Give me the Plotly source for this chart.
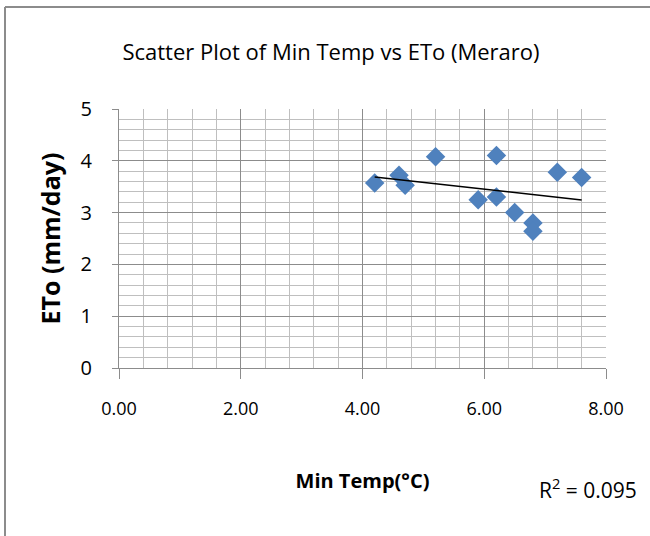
import numpy as np
import plotly.graph_objects as go

# Data
min_temp = [4.2, 4.6, 4.7, 5.2, 5.9, 6.2, 6.2, 6.5, 6.8, 6.8, 7.2, 7.6]
eto = [3.57, 3.72, 3.53, 4.08, 3.25, 4.10, 3.30, 3.00, 2.80, 2.64, 3.78, 3.68]
x_ticks = [0, 2, 4, 6, 8]
y_ticks = [0, 1, 2, 3, 4, 5]
r2_label = "0.095"

title_text = "Scatter Plot of Min Temp vs ETo (Meraro)"
x_title = "Min Temp(°C)"
y_title = "ETo (mm/day)"

# Linear trendline fitted from the data
slope, intercept = np.polyfit(min_temp, eto, 1)
trend_x = [min(min_temp), max(min_temp)]
trend_y = [slope * v + intercept for v in trend_x]

FONT = "Open Sans, Arial, sans-serif"
W, H = 650, 536
L, R, T, B = 119, 44, 109, 168
pw, ph = W - L - R, H - T - B


def px_to_paper_x(px):
    return (px - L) / pw


def px_to_paper_y(py):
    return (H - B - py) / ph


fig = go.Figure()
fig.add_trace(go.Scatter(
    x=min_temp, y=eto, mode="markers",
    marker=dict(symbol="diamond", size=15, color="#4F81BD",
                line=dict(width=0)),
    showlegend=False, hoverinfo="x+y"))
fig.add_trace(go.Scatter(
    x=trend_x, y=trend_y, mode="lines",
    line=dict(color="#000000", width=1.5),
    showlegend=False, hoverinfo="skip"))

fig.update_layout(
    width=W, height=H,
    margin=dict(l=L, r=R, t=T, b=B, autoexpand=False),
    paper_bgcolor="white", plot_bgcolor="white",
    font=dict(family=FONT, size=20, color="#000000"),
    title=dict(text=title_text, x=331 / W, xanchor="center",
               y=1 - 52 / H, yanchor="middle",
               font=dict(family=FONT, size=22, color="#000000")),
)

fig.update_xaxes(
    range=[0, 8], tickvals=x_ticks, tickformat=".2f",
    showgrid=True, gridcolor="#8C8C8C", gridwidth=1,
    minor=dict(dtick=0.4, showgrid=True, gridcolor="#BFBFBF", gridwidth=1,
               ticks=""),
    showline=True, linecolor="#8C8C8C", linewidth=1,
    ticks="outside", ticklen=10, tickcolor="#8C8C8C",
    ticklabelstandoff=14, zeroline=False, automargin=False,
    tickfont=dict(family=FONT, size=18, color="#000000"),
    title=dict(text=f"<b>{x_title}</b>", standoff=55,
               font=dict(family=FONT, size=20, color="#000000")),
)
fig.update_yaxes(
    range=[0, 5], tickvals=y_ticks,
    showgrid=True, gridcolor="#8C8C8C", gridwidth=1,
    minor=dict(dtick=0.2, showgrid=True, gridcolor="#BFBFBF", gridwidth=1,
               ticks=""),
    showline=True, linecolor="#8C8C8C", linewidth=1,
    ticks="outside", ticklen=6, tickcolor="#8C8C8C",
    ticklabelstandoff=16, zeroline=False, automargin=False,
    tickfont=dict(family=FONT, size=20, color="#000000"),
    title=dict(text=f"<b>{y_title}</b>", standoff=12,
               font=dict(family=FONT, size=25, color="#000000")),
)

# R² label of the trendline
fig.add_annotation(text=f"R<sup>2</sup> = {r2_label}", xref="paper", yref="paper",
                   x=px_to_paper_x(588), y=px_to_paper_y(488),
                   xanchor="center", yanchor="middle", showarrow=False,
                   font=dict(family=FONT, size=21, color="#000000"))

# Chart-area border (left and top edges visible in the reference)
fig.add_shape(type="line", xref="paper", yref="paper",
              x0=px_to_paper_x(5), x1=px_to_paper_x(5),
              y0=px_to_paper_y(7), y1=px_to_paper_y(H + 5),
              line=dict(color="#8C8C8C", width=2))
fig.add_shape(type="line", xref="paper", yref="paper",
              x0=px_to_paper_x(5), x1=px_to_paper_x(W + 5),
              y0=px_to_paper_y(7), y1=px_to_paper_y(7),
              line=dict(color="#8C8C8C", width=2))

fig.write_html("out.html", config={"displayModeBar": False},
               post_script="document.body.style.margin='0';")
